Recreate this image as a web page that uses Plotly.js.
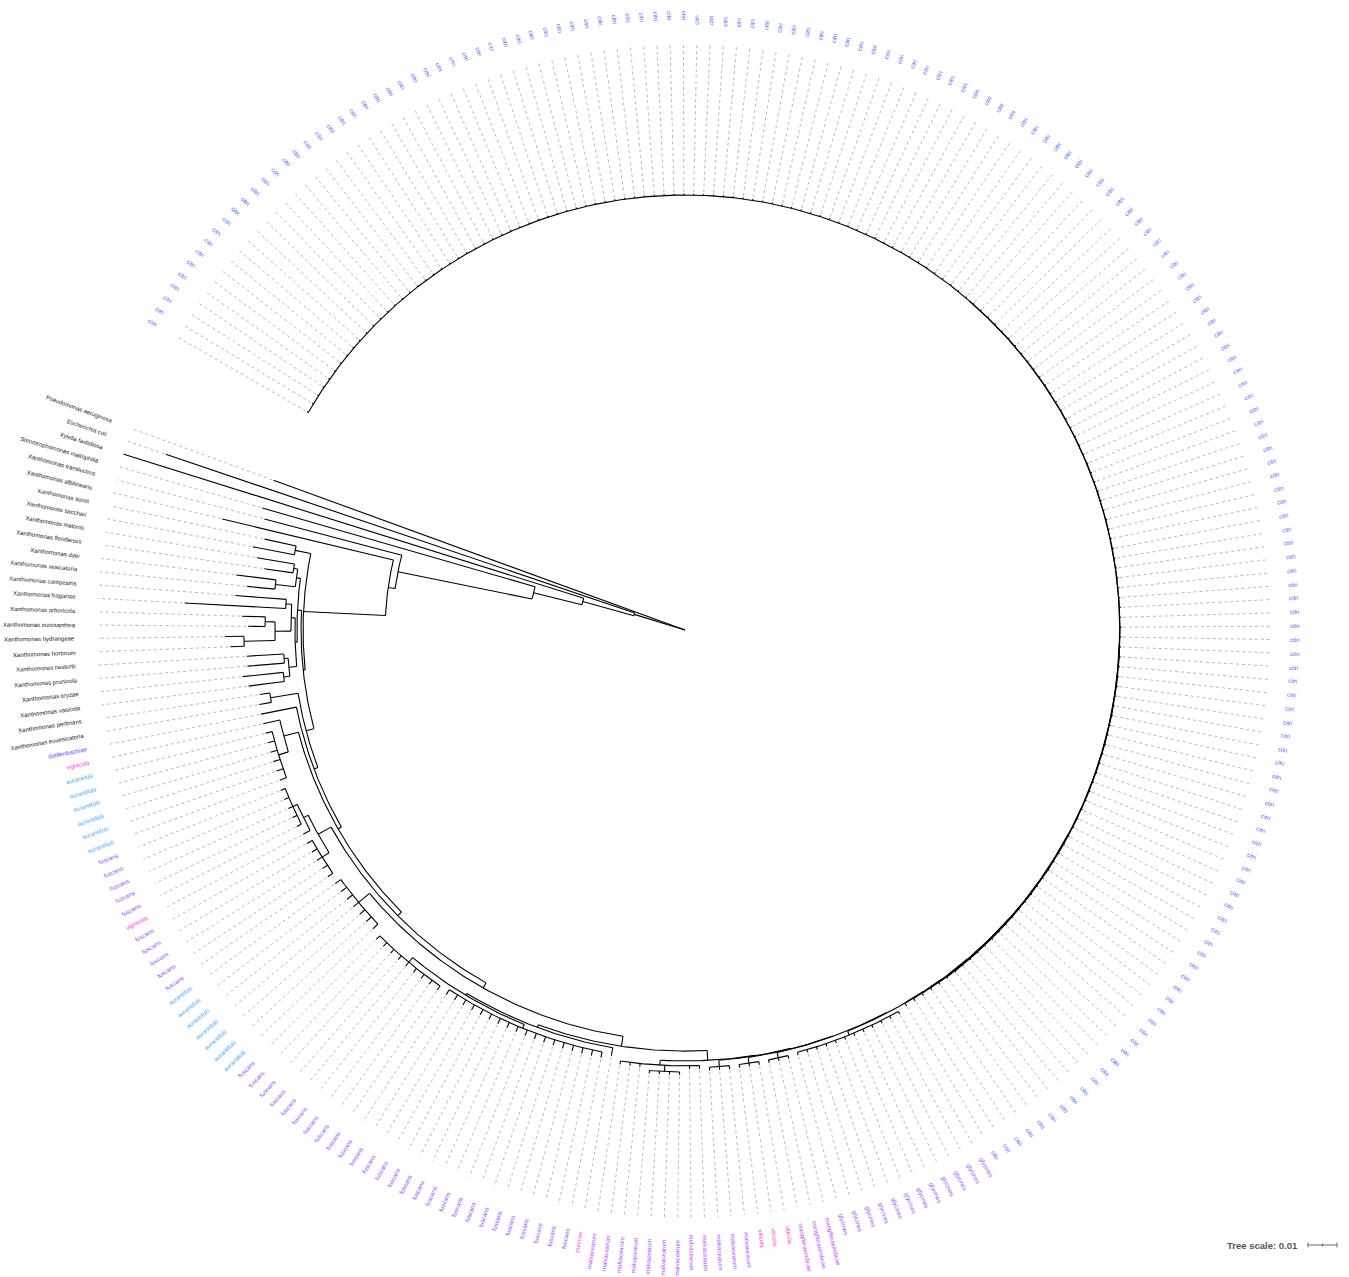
<!DOCTYPE html>
<html><head><meta charset="utf-8">
<script src="https://cdn.plot.ly/plotly-3.0.1.min.js"></script>
<style>html,body{margin:0;padding:0;background:#fff}#chart{width:1349px;height:1277px}</style>
</head><body><div id="chart"></div>
<script>
// ---------- DATA ----------
// Leaf groups in clockwise order (starting at the upper-left end of the arc)
const groupNames  = ['citri','glycines','mangiferaeindicae','viticola','malvacearum','punicae','fuscans','aurantifolii','fuscans','vignicola','fuscans','aurantifolii','vignicola','dieffenbachiae'];
const groupColors = ['#3f5fff','#9a50ff','#c044f0','#ff3fcf','#b347ff','#ff55dd','#8a4dff','#3fa9ff','#8a4dff','#ff33dd','#8a4dff','#3fa9ff','#ff33dd','#6a4dff'];
// tip depth = distance from root, in units of 0.001 substitutions/site
const citriTips = [
150.5,150.5,150.5,150.5,150.5,150.5,150.5,150.5,150.5,
150.5,150.5,150.5,150.5,150.5,150.5,150.5,150.5,150.5,
150.5,150.5,150.5,150.5,150.5,150.5,150.5,150.5,150.5,
150.5,150.5,150.5,150.5,150.5,150.5,150.5,150.5,150.5,
150.5,150.5,150.5,150.5,150.5,150.5,150.5,150.5,150.5,
150.5,150.5,150.5,150.5,150.5,150.5,150.5,150.5,150.5,
150.5,150.5,150.5,150.5,150.5,150.5,150.5,150.5,150.5,
150.5,150.5,150.5,150.5,150.5,150.5,150.5,150.5,150.5,
150.5,150.5,150.5,150.5,150.5,150.5,150.5,150.5,150.5,
150.5,150.5,150.5,150.5,150.5,150.5,150.5,150.5,150.5,
150.5,150.5,150.5,150.5,150.5,150.5,150.5,150.5,150.5,
150.5,150.5,150.5,150.5,150.5,150.5,150.5,150.5,150.5,
150.5,150.5,150.5,150.5,150.5,150.5,150.5,150.5,150.5,
150.5,150.5,150.5,150.5,150.5,150.5,150.5,150.5,150.5,
150.5,150.5,150.5,150.5,150.5,150.5,150.5,150.5,150.5,
150.5,150.5,150.5,150.5,150.5,150.5,150.5,150.5,150.5,
150.5,150.5,150.5,150.5,150.5,150.5,150.5,150.5,150.5,
150.5,150.5,150.5,150.5,150.5,150.5,150.5,150.5,150.5];
const glycinesTips = [151.7,151.7,151.7,151.7,151.7,151.7,151.7,151.7,151.7,151.7,151.7,151.7];
const mangiferaeTips = [152.1,152.1,152.1];
const viticolaTips = [152.1,152.1,152.1];
const malvacearumTips = [152.1,152.1,152.1,151.4,151.4,153.4,153.4,153.4,153.4,151.4,151.4,151.4];
const punicaeTips = [149.0];
const fuscansATips = [150.3,150.3,150.3,150.3,150.3,150.3,150.3,150.3,150.3,150.3,150.3,150.3,150.3,150.3,150.3,150.3,150.3,150.3,
                      150.7,150.7,150.7,150.7,150.7,150.7,150.7,150.7,150.7];
const aurantifoliiATips = [149.0,149.0,149.0,149.0,149.0,149.0,149.0];
const fuscansBTips = [149.7,149.7,149.7,149.7,149.7];
const vignicolaATips = [149.3];
const fuscansCTips = [150.0,150.0,150.0,150.0,150.0];
const aurantifoliiBTips = [149.0,149.0,149.0,149.0,149.0,149.0];
const vignicolaBTips = [149.0];
const dieffenbachiaeTips = [149.0];
const groupTips = [citriTips,glycinesTips,mangiferaeTips,viticolaTips,malvacearumTips,punicaeTips,fuscansATips,aurantifoliiATips,fuscansBTips,vignicolaATips,fuscansCTips,aurantifoliiBTips,vignicolaBTips,dieffenbachiaeTips];

const speciesNames = ['Xanthomonas euvesicatoria','Xanthomonas perforans','Xanthomonas vasicola','Xanthomonas oryzae','Xanthomonas prunicola','Xanthomonas nasturtii','Xanthomonas hortorum','Xanthomonas hydrangeae','Xanthomonas euroxanthea','Xanthomonas arboricola','Xanthomonas fragariae','Xanthomonas campestris','Xanthomonas vesicatoria','Xanthomonas dyei','Xanthomonas floridensis','Xanthomonas melonis','Xanthomonas sacchari','Xanthomonas sontii','Xanthomonas albilineans','Xanthomonas translucens','Stenotrophomonas maltophilia','Xylella fastidiosa','Escherichia coli','Pseudomonas aeruginosa'];
const speciesTips = [149.0,148.3,151.7,153.4,151.4,151.4,156.9,158.6,150.7,152.8,172.8,155.5,151.7,155.9,146.6,149.7,151.7,148.3,164.1,150.0,151.7,202.8,189.0,151.0];
const speciesColor = '#222222';

// internal nodes: [first leaf, last leaf, depth from root (0.001 subs/site)]
const cladeRanges = [
[0,269,0],[0,268,18.3],[0,267,36.6],[0,266,53.8],[0,265,101.0],[0,264,103.4],
[0,263,131.7],[262,263,137.2],
[0,261,132.4],[248,261,133.8],[258,261,135.2],[260,261,136.6],[258,259,142.1],
[248,257,134.5],[252,257,135.9],[256,257,137.9],[252,255,141.4],[254,255,144.8],[252,253,152.1],
[248,251,137.2],[250,251,138.6],[248,249,139.3],
[0,247,135.2],[246,247,144.8],
[0,245,136.6],[0,244,137.9],[238,244,143.1],[238,243,146.6],
[0,237,139.7],[227,237,144.8],[227,231,147.6],[232,237,146.6],[233,237,148.3],
[0,226,141.7],[220,226,146.6],
[0,219,145.2],[192,219,146.2],[193,219,146.9],[193,210,148.3],[211,219,149.0],
[0,191,148.6],[183,191,150.3],[185,188,152.4],
[0,182,148.8],[180,182,151.0],
[0,179,149.0],[177,179,151.0],
[0,176,149.1],[174,176,151.0],
[0,173,149.3],[162,173,150.7],
[0,161,149.4],[0,160,149.5],[0,159,149.6],[0,158,149.7],[0,157,149.8],[0,156,149.9],[0,155,150.0]
];

const scaleValue = 0.01; // tree scale bar

// ---------- LAYOUT CONSTANTS ----------
const CX = 685, CY = 630;         // centre of the circular tree (px)
const PX_PER_UNIT = 2.9;          // px per 0.001 substitutions
const ARC_START = 150, ARC_SPAN = 350;
const DASH_END = 588, LABEL_R_RIGHT = 605, LABEL_R_LEFT = 610;
const FONT = 'Liberation Sans, Arial, sans-serif';
const FS = 6;

// ---------- BUILD TREE ----------
const leaves = [];
groupNames.forEach((g,k)=>groupTips[k].forEach(t=>leaves.push({name:g,color:groupColors[k],tip:t})));
speciesNames.forEach((n,k)=>leaves.push({name:n,color:speciesColor,tip:speciesTips[k]}));
const N = leaves.length;
const STEP = ARC_SPAN/(N-1);

const clades = cladeRanges.map(([a,b,d])=>({first:a,last:b,depth:d,children:[],leaf:false}));
const leafNodes = leaves.map((l,i)=>({first:i,last:i,depth:l.tip,children:[],leaf:true,idx:i}));
function contains(p,c){return p.first<=c.first && c.last<=p.last && !(p.first===c.first && p.last===c.last);}
clades.concat(leafNodes).forEach(n=>{
  let best=null;
  clades.forEach(c=>{ if(c!==n && contains(c,n)){ if(!best || (c.last-c.first)<(best.last-best.first)) best=c; } });
  n.parent=best; if(best) best.children.push(n);
});
clades.forEach(c=>c.children.sort((a,b)=>a.first-b.first));
function angleOf(n){
  if(n.ang!==undefined) return n.ang;
  if(n.leaf) n.ang = ARC_START - STEP*n.idx;
  else { const ch=n.children; n.ang=(angleOf(ch[0])+angleOf(ch[ch.length-1]))/2; }
  return n.ang;
}
clades.forEach(angleOf); leafNodes.forEach(angleOf);
const rad = d=>d*Math.PI/180;
const P = (r,a)=>[CX + r*Math.cos(rad(a)), CY - r*Math.sin(rad(a))];

const tx=[], ty=[];
clades.forEach(c=>{
  const r = c.depth*PX_PER_UNIT;
  const a0 = angleOf(c.children[0]), a1 = angleOf(c.children[c.children.length-1]);
  if(r>0){
    const n = Math.max(2, Math.ceil(Math.abs(a1-a0)/0.4));
    for(let k=0;k<=n;k++){ const p=P(r, a0+(a1-a0)*k/n); tx.push(p[0]); ty.push(p[1]); }
    tx.push(null); ty.push(null);
  }
  c.children.forEach(ch=>{
    const a=angleOf(ch), p0=P(r,a), p1=P(ch.depth*PX_PER_UNIT,a);
    tx.push(p0[0],p1[0],null); ty.push(p0[1],p1[1],null);
  });
});

const dx=[], dy=[];
leafNodes.forEach(l=>{
  const a=angleOf(l), p0=P(l.depth*PX_PER_UNIT+1.5,a), p1=P(DASH_END,a);
  dx.push(p0[0],p1[0],null); dy.push(p0[1],p1[1],null);
});

// labels (inner edge of each label sits at a fixed radius, text runs outward)
const cv=document.createElement('canvas').getContext('2d');
cv.font = FS+'px "Liberation Sans"';
const annotations=[];
leafNodes.forEach(l=>{
  let a=angleOf(l); while(a<=-180) a+=360; while(a>180) a-=360;
  const w=cv.measureText(leaves[l.idx].name).width;
  let rc, ta;
  if(a>-90 && a<=90){ rc=LABEL_R_RIGHT+w/2; ta=-a; }
  else { rc=LABEL_R_LEFT+w/2; ta=180-a; }
  while(ta>180) ta-=360; while(ta<-180) ta+=360;
  const p=P(rc,a);
  annotations.push({x:p[0],y:p[1],xref:'x',yref:'y',text:leaves[l.idx].name,showarrow:false,
    textangle:ta,xanchor:'center',yanchor:'middle',borderpad:0,
    font:{family:FONT,size:FS,color:leaves[l.idx].color}});
});

// scale bar
const SB_X = 1308, SB_Y = 1245;
const sbLen = scaleValue*1000*PX_PER_UNIT;
const sx=[SB_X,SB_X+sbLen,null,SB_X,SB_X,null,SB_X+sbLen,SB_X+sbLen,null,SB_X+sbLen/2,SB_X+sbLen/2];
const sy=[SB_Y,SB_Y,null,SB_Y-2.5,SB_Y+2.5,null,SB_Y-2.5,SB_Y+2.5,null,SB_Y-1.5,SB_Y+1.5];
annotations.push({x:SB_X-8,y:SB_Y,xref:'x',yref:'y',text:'<b>Tree scale: '+scaleValue+'</b>',showarrow:false,
  xanchor:'right',yanchor:'middle',font:{family:FONT,size:9.5,color:'#555'}});

const traces=[
  {type:'scatter',mode:'lines',x:dx,y:dy,line:{color:'#9a9a9a',width:0.7,dash:'3px,3px'},hoverinfo:'skip'},
  {type:'scatter',mode:'lines',x:tx,y:ty,line:{color:'#000',width:1.1},hoverinfo:'skip'},
  {type:'scatter',mode:'lines',x:sx,y:sy,line:{color:'#666',width:1},hoverinfo:'skip'}
];
const layout={width:1349,height:1277,margin:{l:0,r:0,t:0,b:0},paper_bgcolor:'#fff',plot_bgcolor:'#fff',
  showlegend:false,xaxis:{range:[0,1349],visible:false},yaxis:{range:[1277,0],visible:false},annotations};
Plotly.newPlot('chart',traces,layout,{staticPlot:true});
</script></body></html>
